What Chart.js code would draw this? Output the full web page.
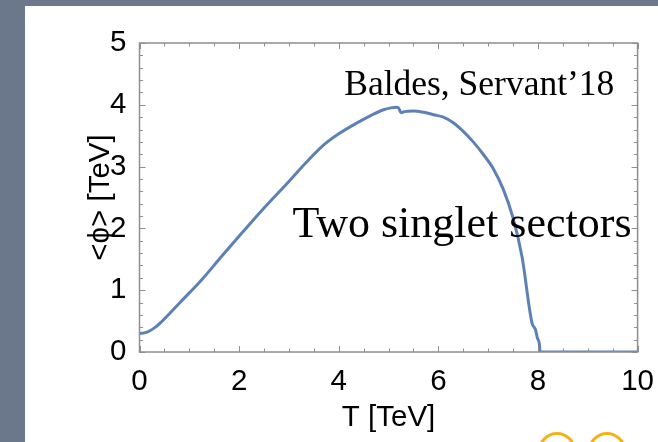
<!DOCTYPE html>
<html>
<head>
<meta charset="utf-8">
<script src="https://cdn.jsdelivr.net/npm/chart.js@4/dist/chart.umd.min.js"></script>
<style>
  html, body { margin: 0; padding: 0; }
  body { width: 658px; height: 442px; background: #6b788c; position: relative; overflow: hidden; }
  #panel { position: absolute; left: 25px; top: 6px; right: 0; bottom: 0; background: #fff; }
  .ring { position: absolute; top: 432px; width: 32px; height: 32px; border: 3px solid #f3b21b; border-radius: 50%; }
  #plot { position: absolute; left: 0; top: 0; }
</style>
</head>
<body>
<div id="panel"></div>
<div class="ring" style="left:538px"></div>
<div class="ring" style="left:588px"></div>
<canvas id="plot" width="658" height="442"></canvas>
<script>
// temperature T [TeV]
const temps = [0, 0.1, 0.2, 0.3, 0.42, 0.8, 1.25, 1.65, 2.05, 2.5, 3.0, 3.35, 3.7, 4.0, 4.35, 4.65,
  4.9, 5.05, 5.15, 5.2, 5.25, 5.32, 5.5, 5.7, 5.9, 6.1, 6.3, 6.5, 6.7, 6.9, 7.1, 7.3, 7.5, 7.68,
  7.88, 7.95, 7.99, 8.03, 8.04, 9, 10];
// <phi> vev [TeV]
const vev = [0.30, 0.31, 0.34, 0.39, 0.47, 0.79, 1.17, 1.55, 1.92, 2.33, 2.76, 3.07, 3.35, 3.53, 3.70, 3.83,
  3.92, 3.95, 3.96, 3.95, 3.87, 3.89, 3.90, 3.88, 3.84, 3.80, 3.71, 3.57, 3.40, 3.20, 2.97, 2.64, 2.17, 1.54,
  0.47, 0.36, 0.22, 0.12, 0, 0, 0];

const xTicks = [0, 2, 4, 6, 8, 10];
const yTicks = [0, 1, 2, 3, 4, 5];

// text labels placed in data coordinates
const notes = [
  { text: 'Baldes, Servant\u201918', x: 4.11, y: 4.165, size: 35.5 },
  { text: 'Two singlet sectors', x: 3.07, y: 1.86, size: 44 }
];

const frameColor = '#8f8f8f';

// box frame with inward major/minor ticks on all four sides
const frameTicks = {
  id: 'frameTicks',
  afterDraw(chart) {
    const { ctx, chartArea: a, scales: { x, y } } = chart;
    ctx.save();
    ctx.strokeStyle = frameColor;
    ctx.lineWidth = 1.5;
    ctx.strokeRect(a.left, a.top, a.right - a.left, a.bottom - a.top);
    ctx.lineWidth = 1;
    ctx.beginPath();
    for (let i = 0; i <= 20; i++) {
      const px = Math.round(x.getPixelForValue(i * 0.5)) + 0.5;
      const len = i % 4 === 0 ? 6 : 3.5;
      ctx.moveTo(px, a.bottom); ctx.lineTo(px, a.bottom - len);
      ctx.moveTo(px, a.top); ctx.lineTo(px, a.top + len);
    }
    for (let i = 0; i <= 25; i++) {
      const py = Math.round(y.getPixelForValue(i * 0.2)) + 0.5;
      const len = i % 5 === 0 ? 6 : 3.5;
      ctx.moveTo(a.left, py); ctx.lineTo(a.left + len, py);
      ctx.moveTo(a.right, py); ctx.lineTo(a.right - len, py);
    }
    ctx.stroke();
    ctx.restore();
  }
};

const noteLabels = {
  id: 'noteLabels',
  afterDatasetsDraw(chart) {
    const { ctx, scales: { x, y } } = chart;
    ctx.save();
    ctx.fillStyle = '#000';
    ctx.textBaseline = 'alphabetic';
    ctx.textAlign = 'left';
    notes.forEach(n => {
      ctx.font = n.size + 'px "Liberation Serif", "DejaVu Serif", serif';
      ctx.fillText(n.text, x.getPixelForValue(n.x), y.getPixelForValue(n.y));
    });
    ctx.restore();
  }
};

const tickFont = { family: '"Liberation Sans", Arial, sans-serif', size: 29.5 };

new Chart(document.getElementById('plot'), {
  type: 'scatter',
  data: {
    datasets: [{
      data: temps.map((t, i) => ({ x: t, y: vev[i] })),
      showLine: true,
      borderColor: '#5e81b5',
      borderWidth: 3,
      pointRadius: 0,
      cubicInterpolationMode: 'monotone'
    }]
  },
  options: {
    responsive: false,
    animation: false,
    layout: { padding: { top: 43, right: 19, left: 0, bottom: 0 } },
    plugins: { legend: { display: false }, tooltip: { enabled: false } },
    scales: {
      x: {
        type: 'linear', min: 0, max: 10,
        afterBuildTicks: s => { s.ticks = xTicks.map(v => ({ value: v })); },
        afterFit: s => { s.height = 90; },
        grid: { display: false },
        border: { display: false },
        ticks: { color: '#000', font: tickFont, padding: 4, maxRotation: 0, autoSkip: false },
        title: {
          display: true, text: 'T [TeV]', color: '#000',
          font: tickFont, padding: { top: 0, bottom: 6 }
        }
      },
      y: {
        type: 'linear', min: 0, max: 5,
        afterBuildTicks: s => { s.ticks = yTicks.map(v => ({ value: v })); },
        afterFit: s => { s.width = 139.5; },
        grid: { display: false },
        border: { display: false },
        ticks: { color: '#000', font: tickFont, padding: 5, autoSkip: false },
        title: {
          display: true, text: '<\u03d5> [TeV]', color: '#000',
          font: tickFont, padding: { top: 83, bottom: 0 }
        }
      }
    }
  },
  plugins: [frameTicks, noteLabels]
});
</script>
</body>
</html>
